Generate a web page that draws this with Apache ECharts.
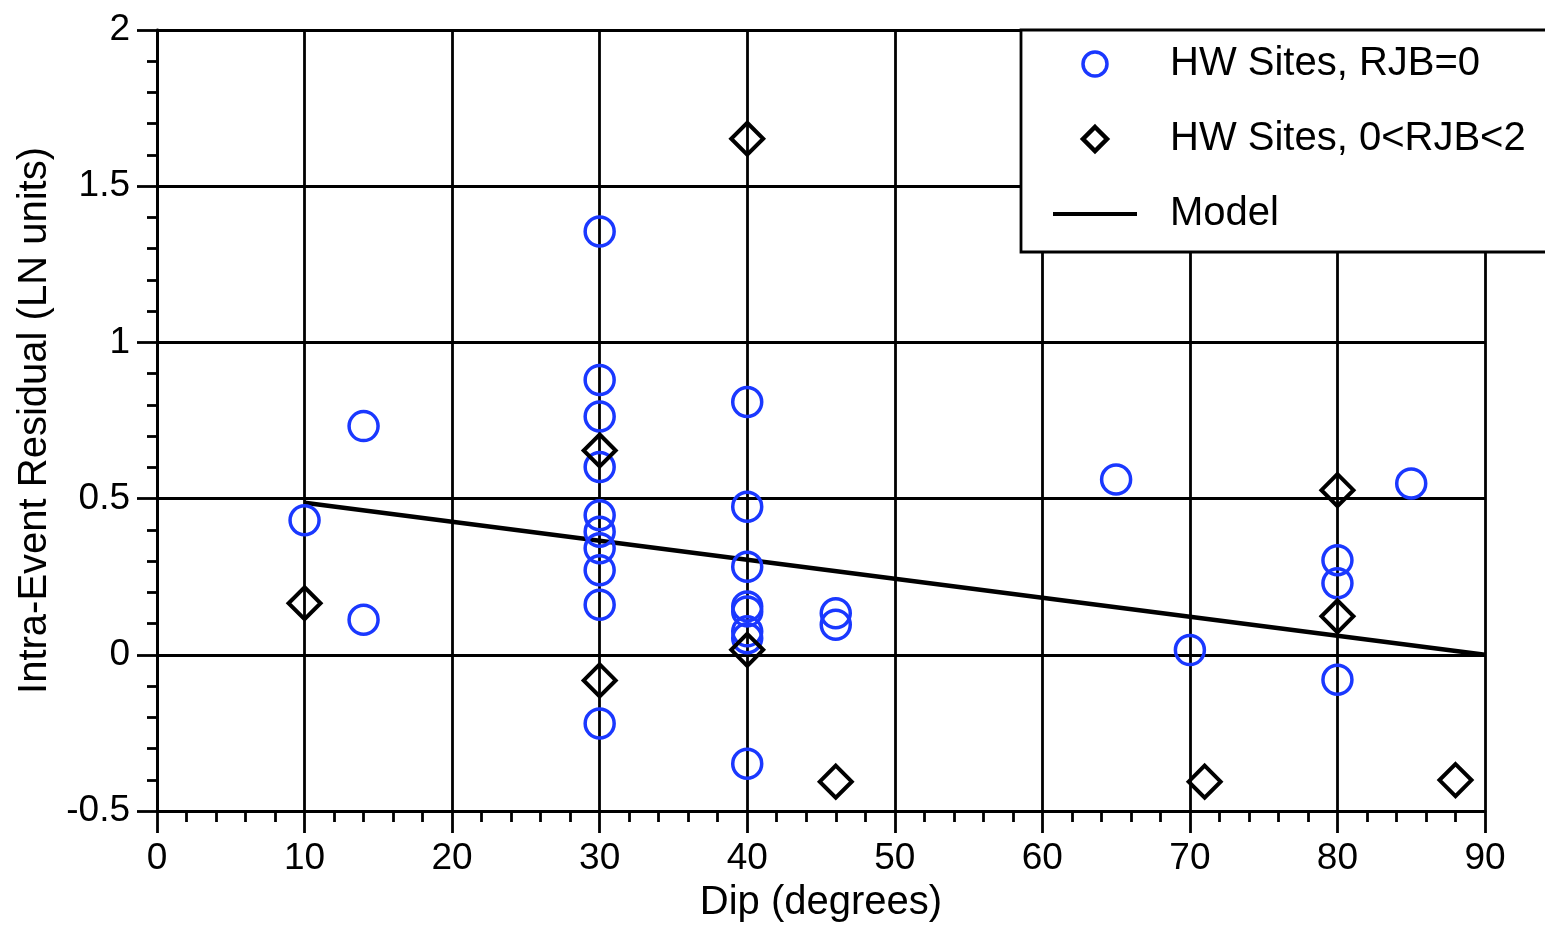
<!DOCTYPE html>
<html>
<head>
<meta charset="utf-8">
<script src="https://cdn.jsdelivr.net/npm/echarts@6/dist/echarts.min.js"></script>
<style>
  html, body { margin: 0; padding: 0; background: #fff; }
  #chart { width: 1545px; height: 928px; }
</style>
</head>
<body>
<div id="chart"></div>
<script>
// 图表数据 (dip, residual)
const hwSitesRjb0 = [
  [10, 0.431], [14, 0.732], [14, 0.112],
  [30, 1.355], [30, 0.880], [30, 0.763], [30, 0.601], [30, 0.447], [30, 0.394],
  [30, 0.341], [30, 0.271], [30, 0.160], [30, -0.220],
  [40, 0.809], [40, 0.474], [40, 0.282], [40, 0.155], [40, 0.139], [40, 0.075],
  [40, 0.053], [40, -0.349],
  [46, 0.133], [46, 0.096],
  [65, 0.561], [70, 0.015],
  [80, 0.303], [80, 0.229], [80, -0.080],
  [85, 0.548]
];
const hwSitesRjb02 = [
  [10, 0.165], [30, 0.654], [30, -0.082], [40, 1.652], [40, 0.016],
  [46, -0.406], [71, -0.406], [80, 0.527], [80, 0.123], [88, -0.401]
];
const modelLine = [[10, 0.487], [90, 0]];

const seriesNames = ['HW Sites, RJB=0', 'HW Sites, 0<RJB<2', 'Model'];

const FONT = 'Liberation Sans, Arial, Helvetica, sans-serif';
const BLUE = '#1a38ff';
const chart = echarts.init(document.getElementById('chart'), null, { renderer: 'canvas' });

const blackLine = { color: '#000', width: 2.8 };

const option = {
  animation: false,
  backgroundColor: '#fff',
  grid: { left: 157, right: 60, top: 30, bottom: 115, containLabel: false },
  xAxis: {
    type: 'value',
    min: 0, max: 90, interval: 10,
    name: 'Dip (degrees)',
    nameLocation: 'middle',
    nameGap: 72,
    nameTextStyle: { fontFamily: FONT, fontSize: 40, color: '#000' },
    axisLine: { show: true, onZero: false, lineStyle: blackLine },
    axisTick: { show: true, inside: false, length: 22, lineStyle: blackLine },
    minorTick: { show: true, splitNumber: 5, length: 11, lineStyle: blackLine },
    splitLine: { show: true, showMinLine: true, showMaxLine: true, lineStyle: blackLine },
    axisLabel: { fontFamily: FONT, fontSize: 37, color: '#000', margin: 29 }
  },
  yAxis: {
    type: 'value',
    min: -0.5, max: 2, interval: 0.5,
    name: 'Intra-Event Residual (LN units)',
    nameLocation: 'middle',
    nameGap: 100,
    nameTextStyle: { fontFamily: FONT, fontSize: 40, color: '#000' },
    axisLine: { show: true, onZero: false, lineStyle: blackLine },
    axisTick: { show: true, inside: false, length: 20, lineStyle: blackLine },
    minorTick: { show: true, splitNumber: 5, length: 10, lineStyle: blackLine },
    splitLine: { show: true, showMinLine: true, showMaxLine: true, lineStyle: blackLine },
    axisLabel: { fontFamily: FONT, fontSize: 37, color: '#000', margin: 27 }
  },
  legend: {
    orient: 'vertical',
    left: 1021,
    top: 30,
    padding: [14, 40, 18, 32],
    itemGap: 35,
    itemWidth: 84,
    itemHeight: 24,
    backgroundColor: '#fff',
    borderColor: '#000',
    borderWidth: 2.8,
    borderRadius: 0,
    textStyle: { fontFamily: FONT, fontSize: 40, color: '#000', padding: [0, 0, 0, 28] },
    data: [
      {
        name: seriesNames[0], icon: 'circle',
        itemStyle: { color: 'rgba(0,0,0,0)', borderColor: BLUE, borderWidth: 3.5 }
      },
      {
        name: seriesNames[1], icon: 'path://M12,0 L24,12 L12,24 L0,12 Z',
        itemStyle: { color: 'rgba(0,0,0,0)', borderColor: '#000', borderWidth: 4.5 }
      },
      {
        name: seriesNames[2], icon: 'path://M0,0 L84,0 L84,4 L0,4 Z',
        itemStyle: { color: '#000', borderWidth: 0 }
      }
    ]
  },
  series: [
    {
      name: seriesNames[2],
      type: 'line',
      data: modelLine,
      symbol: 'none',
      itemStyle: { color: '#000' },
      lineStyle: { color: '#000', width: 4.5 },
      z: 3
    },
    {
      name: seriesNames[0],
      type: 'scatter',
      data: hwSitesRjb0,
      symbol: 'circle',
      symbolSize: 29,
      symbolKeepAspect: true,
      itemStyle: { color: 'rgba(0,0,0,0)', borderColor: BLUE, borderWidth: 3.5, opacity: 1 },
      z: 4
    },
    {
      name: seriesNames[1],
      type: 'scatter',
      data: hwSitesRjb02,
      symbol: 'diamond',
      symbolSize: 32,
      symbolKeepAspect: true,
      itemStyle: { color: 'rgba(0,0,0,0)', borderColor: '#000', borderWidth: 4, opacity: 1 },
      z: 5
    }
  ]
};

chart.setOption(option);
</script>
</body>
</html>
